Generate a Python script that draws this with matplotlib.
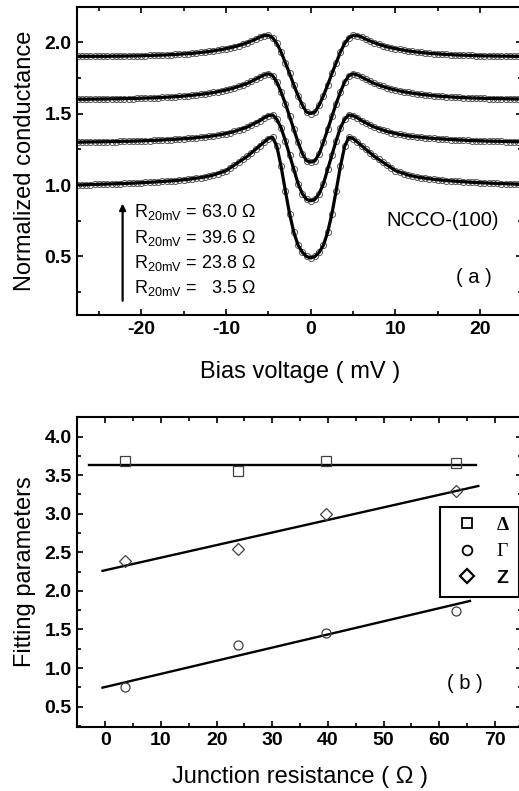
import numpy as np
import matplotlib
matplotlib.use("Agg")
import matplotlib.pyplot as plt
from matplotlib.lines import Line2D
from matplotlib.ticker import MultipleLocator

plt.rcParams['font.family'] = ['Liberation Sans', 'DejaVu Sans']
plt.rcParams['mathtext.fontset'] = 'custom'
plt.rcParams['mathtext.rm'] = 'Liberation Sans'
plt.rcParams['mathtext.it'] = 'Liberation Sans:italic'
plt.rcParams['mathtext.bf'] = 'Liberation Sans:bold'

# ---- panel (a): normalized conductance vs bias, -27.5 .. 25 mV in 0.5 mV steps
bias = np.arange(-27.5, 25.01, 0.5)

g_3p5 = [1.000, 1.001, 1.002, 1.003, 1.004, 1.005, 1.006, 1.007, 1.008, 1.009,
         1.010, 1.011, 1.012, 1.013, 1.015, 1.016, 1.018, 1.019, 1.021, 1.023,
         1.025, 1.027, 1.029, 1.031, 1.034, 1.037, 1.040, 1.044, 1.048, 1.052,
         1.057, 1.063, 1.070, 1.080, 1.090, 1.100, 1.120, 1.140, 1.160, 1.180,
         1.200, 1.225, 1.250, 1.275, 1.300, 1.325, 1.334, 1.270, 1.130, 0.960,
         0.800, 0.670, 0.580, 0.530, 0.500,
         0.490,
         0.500, 0.530, 0.580, 0.670, 0.800, 0.960, 1.130, 1.270, 1.334, 1.325,
         1.300, 1.275, 1.250, 1.225, 1.200, 1.180, 1.160, 1.140, 1.120, 1.100,
         1.090, 1.080, 1.070, 1.063, 1.057, 1.052, 1.048, 1.044, 1.040, 1.037,
         1.034, 1.031, 1.029, 1.027, 1.025, 1.023, 1.021, 1.019, 1.018, 1.016,
         1.015, 1.013, 1.012, 1.011, 1.010, 1.009, 1.008, 1.007, 1.006, 1.005]

g_23p8 = [1.300, 1.300, 1.301, 1.301, 1.302, 1.302, 1.303, 1.303, 1.304, 1.304,
          1.305, 1.306, 1.306, 1.307, 1.308, 1.309, 1.310, 1.311, 1.312, 1.314,
          1.315, 1.317, 1.318, 1.320, 1.322, 1.324, 1.326, 1.328, 1.331, 1.334,
          1.337, 1.340, 1.344, 1.349, 1.354, 1.360, 1.367, 1.375, 1.385, 1.395,
          1.405, 1.420, 1.435, 1.450, 1.470, 1.485, 1.490, 1.460, 1.400, 1.310,
          1.210, 1.110, 1.010, 0.940, 0.900,
          0.890,
          0.900, 0.940, 1.010, 1.110, 1.210, 1.310, 1.400, 1.460, 1.490, 1.485,
          1.470, 1.450, 1.435, 1.420, 1.405, 1.395, 1.385, 1.375, 1.367, 1.360,
          1.354, 1.349, 1.344, 1.340, 1.337, 1.334, 1.331, 1.328, 1.326, 1.324,
          1.322, 1.320, 1.318, 1.317, 1.315, 1.314, 1.312, 1.311, 1.310, 1.309,
          1.308, 1.307, 1.306, 1.306, 1.305, 1.304, 1.304, 1.303, 1.303, 1.302]

g_39p6 = [1.600, 1.600, 1.600, 1.601, 1.601, 1.601, 1.602, 1.602, 1.603, 1.603,
          1.604, 1.604, 1.605, 1.605, 1.606, 1.607, 1.608, 1.609, 1.610, 1.611,
          1.613, 1.614, 1.616, 1.618, 1.620, 1.622, 1.625, 1.628, 1.631, 1.634,
          1.638, 1.642, 1.647, 1.652, 1.658, 1.665, 1.672, 1.680, 1.690, 1.700,
          1.710, 1.725, 1.740, 1.755, 1.770, 1.778, 1.765, 1.720, 1.650, 1.570,
          1.480, 1.390, 1.300, 1.220, 1.170,
          1.160,
          1.170, 1.220, 1.300, 1.390, 1.480, 1.570, 1.650, 1.720, 1.765, 1.778,
          1.770, 1.755, 1.740, 1.725, 1.710, 1.700, 1.690, 1.680, 1.672, 1.665,
          1.658, 1.652, 1.647, 1.642, 1.638, 1.634, 1.631, 1.628, 1.625, 1.622,
          1.620, 1.618, 1.616, 1.614, 1.613, 1.611, 1.610, 1.609, 1.608, 1.607,
          1.606, 1.605, 1.605, 1.604, 1.604, 1.603, 1.603, 1.602, 1.602, 1.601]

g_63p0 = [1.900, 1.900, 1.900, 1.900, 1.900, 1.900, 1.900, 1.900, 1.901, 1.901,
          1.901, 1.902, 1.902, 1.903, 1.903, 1.904, 1.905, 1.906, 1.907, 1.908,
          1.909, 1.910, 1.912, 1.913, 1.915, 1.917, 1.919, 1.921, 1.924, 1.927,
          1.930, 1.934, 1.938, 1.943, 1.948, 1.954, 1.960, 1.967, 1.975, 1.985,
          1.995, 2.007, 2.020, 2.035, 2.045, 2.047, 2.030, 1.990, 1.930, 1.855,
          1.780, 1.700, 1.625, 1.560, 1.510,
          1.500,
          1.510, 1.560, 1.625, 1.700, 1.780, 1.855, 1.930, 1.990, 2.030, 2.047,
          2.045, 2.035, 2.020, 2.007, 1.995, 1.985, 1.975, 1.967, 1.960, 1.954,
          1.948, 1.943, 1.938, 1.934, 1.930, 1.927, 1.924, 1.921, 1.919, 1.917,
          1.915, 1.913, 1.912, 1.910, 1.909, 1.908, 1.907, 1.906, 1.905, 1.904,
          1.903, 1.903, 1.902, 1.902, 1.901, 1.901, 1.901, 1.900, 1.900, 1.900]

spectra = [g_3p5, g_23p8, g_39p6, g_63p0]
r_labels = ["63.0", "39.6", "23.8", "  3.5"]

# ---- panel (b): fitting parameters vs junction resistance
r_junction = [3.5, 23.8, 39.6, 63.0]
delta = [3.685, 3.55, 3.69, 3.655]
gamma = [0.75, 1.30, 1.46, 1.745]
z_par = [2.39, 2.545, 3.00, 3.30]

fit_delta_x, fit_delta_y = [-3.0, 66.5], [3.633, 3.633]
fit_z_x, fit_z_y = [-0.5, 67.0], [2.26, 3.36]
fit_gamma_x, fit_gamma_y = [-0.5, 65.5], [0.746, 1.87]


def style_axes(ax, xmaj, xmin, ymaj, ymin):
    for sp in ax.spines.values():
        sp.set_linewidth(1.5)
    ax.xaxis.set_major_locator(MultipleLocator(xmaj))
    ax.xaxis.set_minor_locator(MultipleLocator(xmin))
    ax.yaxis.set_major_locator(MultipleLocator(ymaj))
    ax.yaxis.set_minor_locator(MultipleLocator(ymin))
    ax.tick_params(which='both', direction='in', top=True, right=True, width=1.2)
    ax.tick_params(which='major', length=4.5, labelsize=14, pad=4)
    ax.tick_params(which='minor', length=3)


fig = plt.figure(figsize=(5.19, 7.91), dpi=100)

# top panel
ax1 = fig.add_axes([0.1489, 0.6018, 0.8569, 0.389])
for g in spectra:
    ax1.plot(bias, g, 'o', mfc='none', mec='0.35', ms=4.4, mew=0.7, zorder=2)
    ax1.plot(bias, g, '-', color='k', lw=2.3, zorder=3)
ax1.set_xlim(-27.55, 24.93)
ax1.set_ylim(0.091, 2.243)
style_axes(ax1, 10, 5, 0.5, 0.25)
ax1.set_xticks([-20, -10, 0, 10, 20])
ax1.set_xticklabels(['-20', '-10', '0', '10', '20'], fontweight='bold')
ax1.set_yticks([0.5, 1.0, 1.5, 2.0])
ax1.set_yticklabels(['0.5', '1.0', '1.5', '2.0'], fontweight='bold')
ax1.set_xlabel('Bias voltage ( mV )', fontsize=17, labelpad=17)
ax1.set_ylabel('Normalized conductance', fontsize=17, labelpad=6)

ys = [0.773, 0.597, 0.422, 0.247]
for y, r in zip(ys, r_labels):
    ax1.text(-20.9, y, r'R$_{\mathrm{20mV}}$ = ' + r + ' Ω', fontsize=13,
             va='baseline', ha='left')
ax1.annotate('', xy=(-22.2, 0.87), xytext=(-22.2, 0.19),
             arrowprops=dict(arrowstyle='-|>', lw=1.6, color='k',
                             mutation_scale=9, shrinkA=0, shrinkB=0))
ax1.text(15.6, 0.75, 'NCCO-(100)', fontsize=14.5, ha='center', va='center')
ax1.text(19.2, 0.35, '( a )', fontsize=14.5, ha='center', va='center')

# bottom panel
ax2 = fig.add_axes([0.1489, 0.0813, 0.8569, 0.3911])
mk = dict(mfc='none', mec='0.25', mew=0.9, ls='none')
ax2.plot(fit_delta_x, fit_delta_y, '-', color='k', lw=1.7)
ax2.plot(fit_z_x, fit_z_y, '-', color='k', lw=1.7)
ax2.plot(fit_gamma_x, fit_gamma_y, '-', color='k', lw=1.7)
ax2.plot(r_junction, delta, marker='s', ms=6.5, **mk)
ax2.plot(r_junction, gamma, marker='o', ms=6.5, **mk)
ax2.plot(r_junction, z_par, marker='D', ms=6, **mk)
ax2.set_xlim(-5.03, 74.85)
ax2.set_ylim(0.24, 4.25)
style_axes(ax2, 10, 5, 0.5, 0.25)
ax2.set_xticks(np.arange(0, 71, 10))
ax2.set_xticklabels([str(v) for v in range(0, 71, 10)], fontweight='bold')
ax2.set_yticks(np.arange(0.5, 4.01, 0.5))
ax2.set_yticklabels(['%.1f' % v for v in np.arange(0.5, 4.01, 0.5)], fontweight='bold')
ax2.set_xlabel('Junction resistance ( Ω )', fontsize=17, labelpad=12)
ax2.set_ylabel('Fitting parameters', fontsize=17, labelpad=6)
ax2.text(64.6, 0.80, '( b )', fontsize=14.5, ha='center', va='center')

handles = [Line2D([], [], marker='s', ms=7, mfc='none', mec='k', mew=1.3, ls='none'),
           Line2D([], [], marker='o', ms=7, mfc='none', mec='k', mew=1.3, ls='none'),
           Line2D([], [], marker='D', ms=7, mfc='none', mec='k', mew=1.6, ls='none')]
leg = ax2.legend(handles, ['Δ', 'Γ', 'Z'], loc='upper left',
                 bbox_to_anchor=(0.816, 0.711), borderaxespad=0, fontsize=14,
                 handlelength=1.8, handletextpad=0.6, borderpad=0.5,
                 labelspacing=0.45, fancybox=False, framealpha=1, numpoints=1)
leg.get_frame().set_edgecolor('k')
leg.get_frame().set_linewidth(1.5)
t = leg.get_texts()
t[0].set_fontfamily(['Liberation Serif', 'DejaVu Serif'])
t[0].set_fontweight('bold')
t[1].set_fontfamily(['Liberation Serif', 'DejaVu Serif'])
t[2].set_fontweight('bold')

fig.savefig('out.png', dpi=100)
